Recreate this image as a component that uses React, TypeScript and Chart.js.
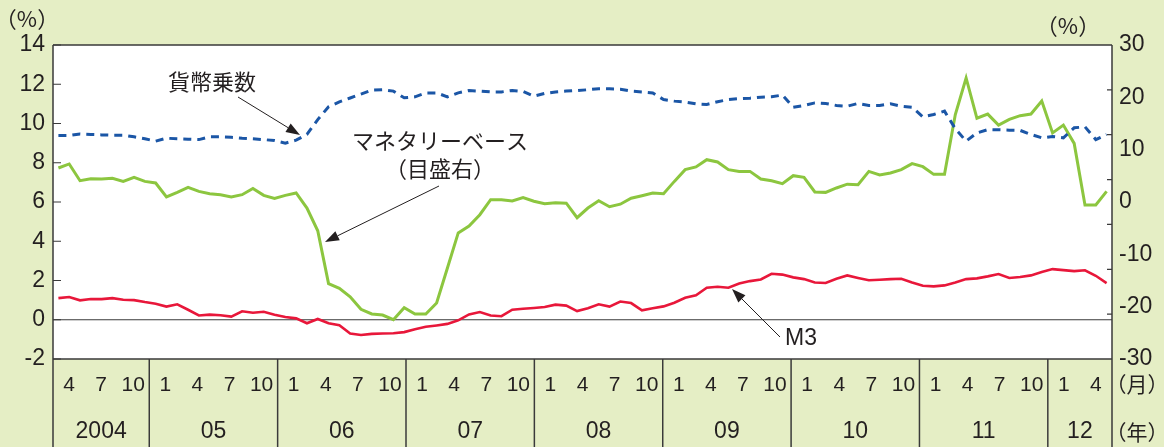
import { useEffect, useRef } from "react";
import { Chart, registerables } from "chart.js";

Chart.register(...registerables);

// Monthly observations, Apr 2004 – May 2012
const months = [
  "2004-04","2004-05","2004-06","2004-07","2004-08","2004-09","2004-10","2004-11","2004-12",
  "2005-01","2005-02","2005-03","2005-04","2005-05","2005-06","2005-07","2005-08","2005-09","2005-10","2005-11","2005-12",
  "2006-01","2006-02","2006-03","2006-04","2006-05","2006-06","2006-07","2006-08","2006-09","2006-10","2006-11","2006-12",
  "2007-01","2007-02","2007-03","2007-04","2007-05","2007-06","2007-07","2007-08","2007-09","2007-10","2007-11","2007-12",
  "2008-01","2008-02","2008-03","2008-04","2008-05","2008-06","2008-07","2008-08","2008-09","2008-10","2008-11","2008-12",
  "2009-01","2009-02","2009-03","2009-04","2009-05","2009-06","2009-07","2009-08","2009-09","2009-10","2009-11","2009-12",
  "2010-01","2010-02","2010-03","2010-04","2010-05","2010-06","2010-07","2010-08","2010-09","2010-10","2010-11","2010-12",
  "2011-01","2011-02","2011-03","2011-04","2011-05","2011-06","2011-07","2011-08","2011-09","2011-10","2011-11","2011-12",
  "2012-01","2012-02","2012-03","2012-04","2012-05",
];

// 貨幣乗数 (left axis)
const moneyMultiplier = [
  9.39, 9.39, 9.47, 9.44, 9.42, 9.40, 9.40, 9.32, 9.22,
  9.10, 9.25, 9.22, 9.20, 9.18, 9.32, 9.32, 9.30, 9.25, 9.22, 9.18, 9.13,
  9.00, 9.15, 9.45, 10.2, 10.85, 11.1, 11.3, 11.5, 11.7, 11.72, 11.65, 11.31,
  11.36, 11.56, 11.56, 11.36, 11.56, 11.68, 11.65, 11.61, 11.61, 11.68, 11.63, 11.39,
  11.53, 11.61, 11.65, 11.68, 11.72, 11.77, 11.77, 11.75, 11.65, 11.61, 11.56, 11.22,
  11.14, 11.09, 11.00, 10.97, 11.11, 11.22, 11.27, 11.29, 11.34, 11.36, 11.45, 10.83,
  10.92, 11.05, 11.02, 10.92, 10.88, 11.02, 10.92, 10.92, 11.00, 10.88, 10.83, 10.34,
  10.46, 10.63, 9.73, 9.10, 9.52, 9.69, 9.68, 9.66, 9.65, 9.44, 9.27, 9.34,
  9.27, 9.78, 9.83, 9.18, 9.44,
];

// マネタリーベース (right axis)
const monetaryBase = [
  6.50, 7.27, 4.07, 4.46, 4.40, 4.52, 3.94, 4.71, 3.94,
  3.63, 0.96, 1.84, 2.79, 2.03, 1.59, 1.40, 0.96, 1.40, 2.60, 1.27, 0.69,
  1.27, 1.72, -1.15, -5.5, -15.6, -16.5, -18.1, -20.5, -21.4, -21.6, -22.5, -20.2,
  -21.4, -21.4, -19.3, -12.6, -5.9, -4.6, -2.43, 0.44, 0.44, 0.19, 0.85, 0.15,
  -0.33, -0.13, -0.22, -3.0, -1.15, 0.25, -0.9, -0.42, 0.73, 1.21, 1.72, 1.59,
  3.94, 6.18, 6.70, 8.09, 7.65, 6.18, 5.85, 5.85, 4.40, 4.07, 3.50, 5.03,
  4.71, 1.91, 1.84, 2.68, 3.4, 3.31, 5.85, 5.17, 5.55, 6.18, 7.33, 6.75,
  5.28, 5.28, 16.7, 23.7, 16.0, 16.8, 14.7, 15.8, 16.5, 16.8, 19.3, 13.2,
  14.7, 11.2, -0.57, -0.57, 2.03,
];

// M3 (left axis)
const m3 = [
  1.10, 1.16, 0.99, 1.06, 1.05, 1.10, 1.02, 1.00, 0.90,
  0.82, 0.67, 0.79, 0.51, 0.22, 0.26, 0.23, 0.16, 0.43, 0.36, 0.41, 0.26,
  0.14, 0.07, -0.18, 0.04, -0.18, -0.28, -0.70, -0.78, -0.72, -0.70, -0.69, -0.63,
  -0.48, -0.36, -0.29, -0.21, -0.03, 0.27, 0.39, 0.22, 0.18, 0.51, 0.56, 0.60,
  0.65, 0.77, 0.72, 0.44, 0.59, 0.79, 0.67, 0.93, 0.85, 0.48, 0.59, 0.68,
  0.87, 1.12, 1.25, 1.63, 1.68, 1.63, 1.85, 1.97, 2.05, 2.34, 2.30, 2.16,
  2.07, 1.90, 1.87, 2.09, 2.26, 2.13, 2.01, 2.04, 2.07, 2.09, 1.90, 1.73,
  1.70, 1.75, 1.90, 2.07, 2.11, 2.21, 2.33, 2.13, 2.18, 2.26, 2.43, 2.58,
  2.53, 2.48, 2.52, 2.24, 1.87,
];

// Axis decorations
const leftTicks = [14, 12, 10, 8, 6, 4, 2, 0, -2];
const rightTicks = [30, 20, 10, 0, -10, -20, -30];
const yearLabels = ["2004", "05", "06", "07", "08", "09", "10", "11", "12"];
const yearFirstMonth = [4, 1, 1, 1, 1, 1, 1, 1, 1];
const yearMonthCount = [9, 12, 12, 12, 12, 12, 12, 12, 6];
const monthTickLabels = [1, 4, 7, 10];

const BG = "#E5EEC5";
const INK = "#231f20";
const FRAME = "#3a3a3a";
const NUM_FONT = '"Liberation Sans", Arial, sans-serif';
const JP_FONT = '"Noto Sans CJK JP", "Noto Sans", sans-serif';

function arrow(ctx: CanvasRenderingContext2D, x1: number, y1: number, x2: number, y2: number) {
  const ang = Math.atan2(y2 - y1, x2 - x1);
  const len = 14;
  const hw = 5;
  const bx = x2 - len * Math.cos(ang);
  const by = y2 - len * Math.sin(ang);
  ctx.strokeStyle = INK;
  ctx.fillStyle = INK;
  ctx.lineWidth = 1;
  ctx.beginPath();
  ctx.moveTo(x1, y1);
  ctx.lineTo(bx, by);
  ctx.stroke();
  ctx.beginPath();
  ctx.moveTo(x2, y2);
  ctx.lineTo(bx + hw * Math.sin(ang), by - hw * Math.cos(ang));
  ctx.lineTo(bx - hw * Math.sin(ang), by + hw * Math.cos(ang));
  ctx.closePath();
  ctx.fill();
}

const decor = {
  id: "decor",
  beforeDraw(chart: any) {
    const { ctx, chartArea: a, width, height } = chart;
    ctx.save();
    ctx.fillStyle = BG;
    ctx.fillRect(0, 0, width, height);
    ctx.fillStyle = "#ffffff";
    ctx.fillRect(a.left, a.top, a.right - a.left, a.bottom - a.top);
    ctx.restore();
  },
  beforeDatasetsDraw(chart: any) {
    const { ctx, chartArea: a } = chart;
    const y0 = chart.scales.y.getPixelForValue(0);
    ctx.save();
    ctx.strokeStyle = FRAME;
    ctx.lineWidth = 1.2;
    ctx.beginPath();
    ctx.moveTo(a.left, y0);
    ctx.lineTo(a.right, y0);
    ctx.stroke();
    ctx.restore();
  },
  afterDraw(chart: any) {
    const { ctx, chartArea: a, height } = chart;
    const ys = chart.scales.y;
    ctx.save();
    ctx.strokeStyle = FRAME;
    ctx.lineWidth = 1.5;
    // frame
    ctx.beginPath();
    ctx.moveTo(a.left, a.top);
    ctx.lineTo(a.right, a.top);
    ctx.moveTo(a.left, a.bottom);
    ctx.lineTo(a.right, a.bottom);
    ctx.moveTo(a.left, a.top);
    ctx.lineTo(a.left, height);
    ctx.moveTo(a.right, a.top);
    ctx.lineTo(a.right, height);
    ctx.stroke();
    // inner ticks, left
    ctx.lineWidth = 1.2;
    ctx.beginPath();
    leftTicks.forEach((v) => {
      const y = ys.getPixelForValue(v);
      ctx.moveTo(a.left, y);
      ctx.lineTo(a.left + 8, y);
    });
    // inner ticks, right (seven equal divisions)
    const h = a.bottom - a.top;
    for (let k = 1; k < 7; k++) {
      const y = a.top + (h * k) / 7;
      ctx.moveTo(a.right, y);
      ctx.lineTo(a.right - 5, y);
    }
    ctx.stroke();

    // bottom axis: months and years
    const w = (a.right - a.left) / 99;
    let start = a.left;
    ctx.fillStyle = INK;
    ctx.textBaseline = "middle";
    ctx.textAlign = "center";
    yearLabels.forEach((yl, k) => {
      const first = yearFirstMonth[k];
      const cnt = yearMonthCount[k];
      const end = start + cnt * w;
      if (k > 0) {
        ctx.lineWidth = 1.5;
        ctx.beginPath();
        ctx.moveTo(start, a.bottom);
        ctx.lineTo(start, height);
        ctx.stroke();
      }
      ctx.font = `21px ${NUM_FONT}`;
      monthTickLabels.forEach((m) => {
        if (m >= first && m < first + cnt) {
          const x = start + (m - first + 1.5) * w;
          ctx.fillText(String(m), x, 385);
        }
      });
      ctx.font = `23px ${NUM_FONT}`;
      ctx.fillText(yl, (start + end) / 2, 432);
      start = end;
    });
    ctx.font = `21px ${JP_FONT}`;
    ctx.fillText("（月）", a.right + 25, 384);
    ctx.fillText("（年）", a.right + 25, 432);

    // unit labels
    ctx.font = `22px ${JP_FONT}`;
    ctx.fillText("（%）", 27, 19);
    ctx.fillText("（%）", 1068, 26);

    // annotations
    ctx.font = `22px ${JP_FONT}`;
    ctx.textAlign = "left";
    ctx.fillText("貨幣乗数", 168, 82);
    ctx.textAlign = "center";
    ctx.fillText("マネタリーベース", 440, 141);
    ctx.fillText("（目盛右）", 440, 169);
    ctx.textAlign = "left";
    ctx.font = `23px ${NUM_FONT}`;
    ctx.fillText("M3", 785, 339);

    arrow(ctx, 238, 97, 300, 135);
    arrow(ctx, 439, 186, 325, 242);
    arrow(ctx, 780, 337, 732, 289);
    ctx.restore();
  },
};

export default function App() {
  const ref = useRef<HTMLCanvasElement | null>(null);

  useEffect(() => {
    document.body.style.margin = "0";
    const canvas = ref.current;
    if (!canvas) return;
    const chart = new Chart(canvas, {
      type: "line",
      data: {
        labels: months,
        datasets: [
          {
            label: "M3",
            data: m3,
            yAxisID: "y",
            borderColor: "#E8173A",
            borderWidth: 2.6,
            pointRadius: 0,
            tension: 0,
          },
          {
            label: "貨幣乗数",
            data: moneyMultiplier,
            yAxisID: "y",
            borderColor: "#1B56A6",
            borderWidth: 3,
            borderDash: [8, 6],
            pointRadius: 0,
            tension: 0,
          },
          {
            label: "マネタリーベース",
            data: monetaryBase,
            yAxisID: "y1",
            borderColor: "#8CC63F",
            borderWidth: 3,
            pointRadius: 0,
            tension: 0,
          },
        ],
      },
      options: {
        responsive: false,
        animation: false,
        devicePixelRatio: 1,
        layout: { padding: { top: 45, bottom: 88, left: 0, right: 0 } },
        plugins: { legend: { display: false }, tooltip: { enabled: false } },
        scales: {
          x: {
            type: "category",
            display: false,
            offset: true,
          },
          y: {
            position: "left",
            min: -2,
            max: 14,
            afterBuildTicks: (s: any) => {
              s.ticks = leftTicks.map((v) => ({ value: v }));
            },
            afterFit: (s: any) => {
              s.width = 53;
            },
            grid: { display: false, drawTicks: false },
            border: { display: false },
            ticks: {
              padding: 8,
              color: INK,
              font: { family: NUM_FONT, size: 23 },
            },
          },
          y1: {
            position: "right",
            min: -30,
            max: 30,
            afterBuildTicks: (s: any) => {
              s.ticks = rightTicks.map((v) => ({ value: v }));
            },
            afterFit: (s: any) => {
              s.width = 52;
            },
            grid: { display: false, drawTicks: false },
            border: { display: false },
            ticks: {
              padding: 7,
              color: INK,
              font: { family: NUM_FONT, size: 23 },
            },
          },
        },
      },
      plugins: [decor],
    } as any);
    return () => chart.destroy();
  }, []);

  return (
    <div style={{ width: 1164, height: 447 }}>
      <canvas ref={ref} width={1164} height={447} style={{ display: "block" }} />
    </div>
  );
}
